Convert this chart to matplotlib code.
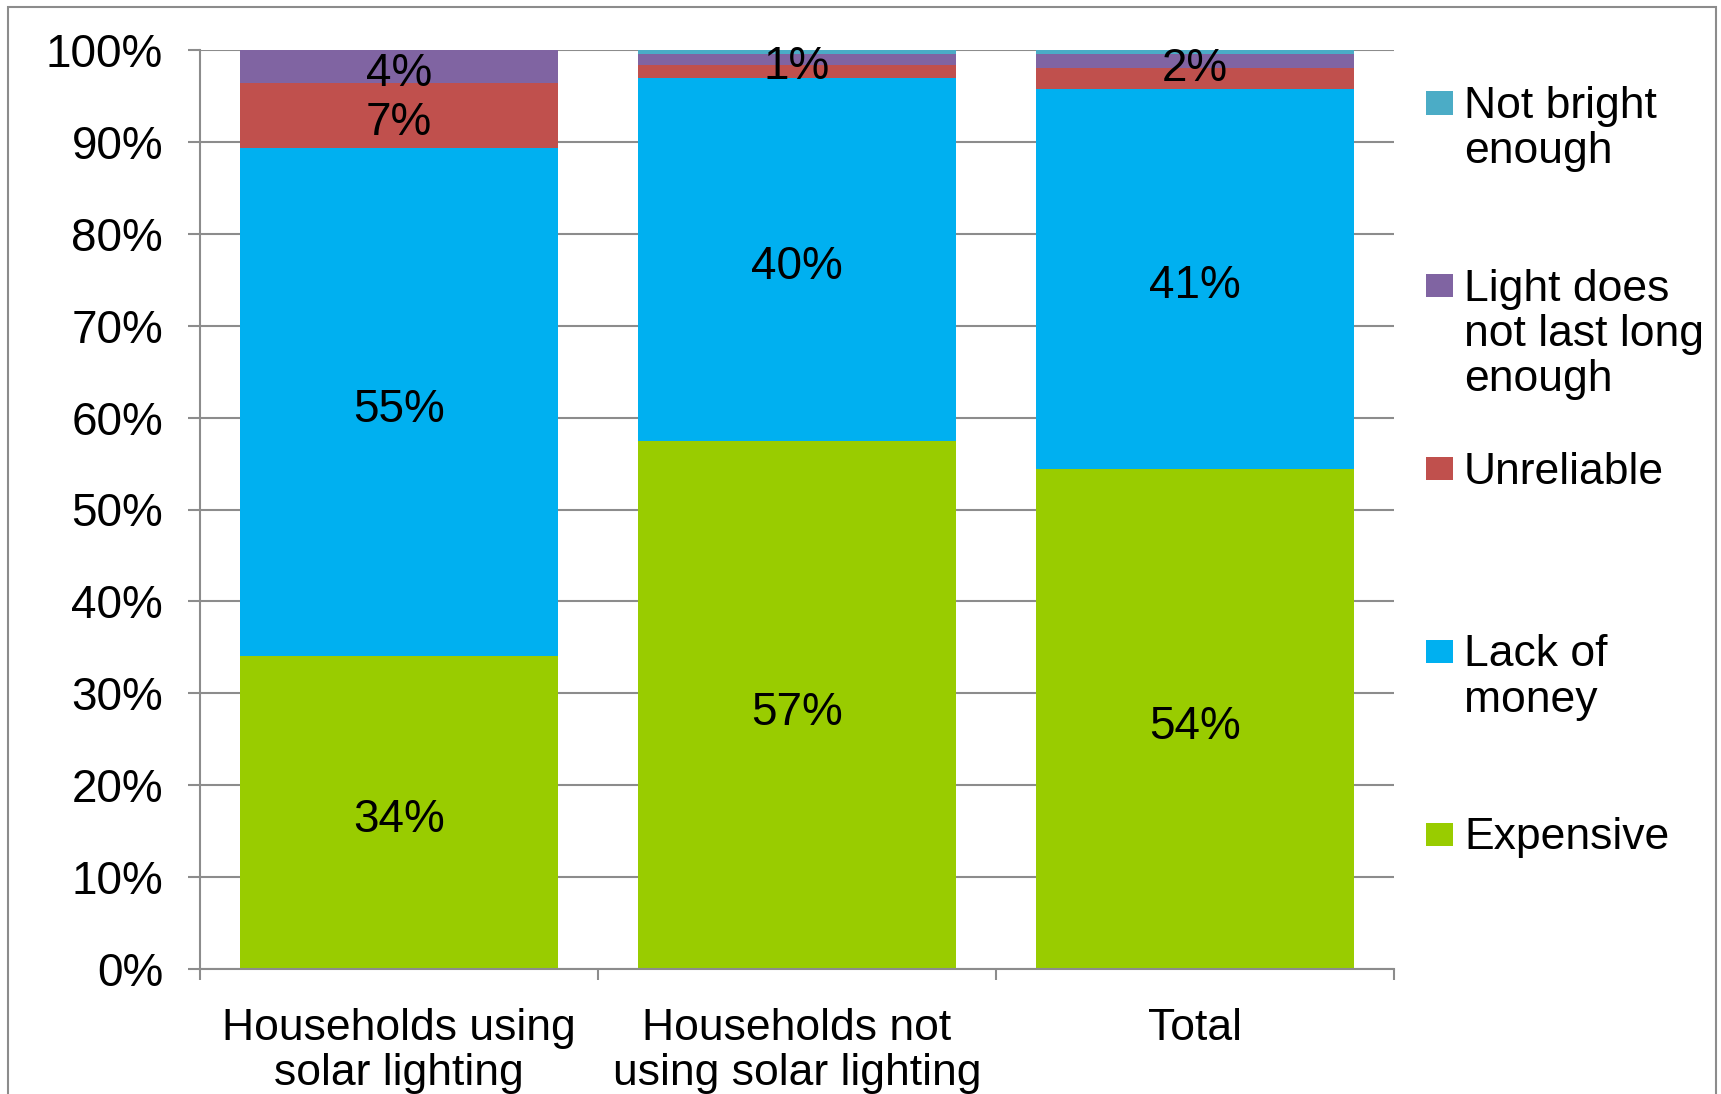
import matplotlib
matplotlib.use("Agg")
import matplotlib.pyplot as plt
from matplotlib.patches import Rectangle
from matplotlib.ticker import FixedLocator
import numpy as np

plt.rcParams['font.family'] = ['Liberation Sans', 'DejaVu Sans']

# ---- data -------------------------------------------------------------
categories = ["Households using\nsolar lighting",
              "Households not\nusing solar lighting",
              "Total"]

expensive = [34.1, 57.4, 54.4]
lack_of_money = [55.2, 39.6, 41.4]
unreliable = [7.1, 1.4, 2.2]
not_long_enough = [3.6, 1.2, 1.6]
not_bright = [0.0, 0.4, 0.4]

legend_labels = ["Expensive", "Lack of\nmoney", "Unreliable",
                 "Light does\nnot last long\nenough", "Not bright\nenough"]

# which segments carry a value label
label_expensive = [True, True, True]
label_lack = [True, True, True]
label_unreliable = [True, False, False]
label_long = [True, True, True]
label_bright = [False, False, False]

y_ticks = [0, 10, 20, 30, 40, 50, 60, 70, 80, 90, 100]
y_tick_labels = [f"{t}%" for t in y_ticks]

colors = ["#99CC00", "#00B0F0", "#C0504D", "#8064A2", "#4BACC6"]
grid_color = "#8C8C8C"

series = [expensive, lack_of_money, unreliable, not_long_enough, not_bright]
label_flags = [label_expensive, label_lack, label_unreliable, label_long, label_bright]

# ---- figure -----------------------------------------------------------
W, H = 1721, 1094
fig = plt.figure(figsize=(W / 100, H / 100), dpi=100)
fig.patch.set_facecolor("white")

ax_left, ax_right, ax_top, ax_bottom = 200, 1394, 50, 969
ax = fig.add_axes([ax_left / W, (H - ax_bottom) / H,
                   (ax_right - ax_left) / W, (ax_bottom - ax_top) / H])

x = np.arange(len(categories))
bottom = np.zeros(len(categories))
for vals, col, flags in zip(series, colors, label_flags):
    vals = np.asarray(vals, dtype=float)
    ax.bar(x, vals, width=0.8, bottom=bottom, color=col, edgecolor="none",
           zorder=2)
    for xi, b, v, f in zip(x, bottom, vals, flags):
        if f:
            ax.annotate(f"{v:.0f}%", (xi, b + v / 2), xytext=(0, -5.5),
                        textcoords="offset points", ha="center", va="center",
                        fontsize=33, color="black", zorder=3)
    bottom = bottom + vals

ax.set_xlim(-0.5, len(categories) - 0.5)
ax.set_ylim(0, 100)

# axes styling
for side in ("top", "right"):
    ax.spines[side].set_visible(False)
for side in ("left", "bottom"):
    ax.spines[side].set_color(grid_color)
    ax.spines[side].set_linewidth(1.5)

ax.set_yticks(y_ticks)
ax.set_yticklabels(y_tick_labels, fontsize=33)
ax.tick_params(axis="y", length=8.6, width=1.5, color=grid_color, pad=18,
               direction="out")
ax.yaxis.grid(True, color=grid_color, linewidth=1.5)
ax.set_axisbelow(True)

ax.set_xticks(x)
ax.set_xticklabels(categories, fontsize=32, linespacing=1.13)
ax.tick_params(axis="x", which="major", length=0, pad=28)
ax.xaxis.set_minor_locator(FixedLocator(np.arange(-0.5, len(categories), 1.0)))
ax.tick_params(axis="x", which="minor", length=8, width=1.5, color=grid_color,
               direction="out")

# ---- legend -----------------------------------------------------------
first_center = 103
step = 182.8
order = list(range(len(series)))[::-1]
for k, idx in enumerate(order):
    yc = first_center + step * k
    fig.patches.append(Rectangle((1426 / W, 1 - (yc + 11.5) / H), 27 / W, 23 / H,
                                 transform=fig.transFigure, facecolor=colors[idx],
                                 edgecolor="none"))
    fig.text(1464 / W, 1 - (yc - 17) / H, legend_labels[idx], ha="left",
             va="top", fontsize=32, linespacing=1.13)

# chart frame
fig.patches.append(Rectangle((8 / W, -0.05), (1716 - 8) / W, (H - 7) / H + 0.05,
                             transform=fig.transFigure, fill=False,
                             edgecolor="#8C8C8C", linewidth=1.5))

fig.savefig("out.png", dpi=100)
